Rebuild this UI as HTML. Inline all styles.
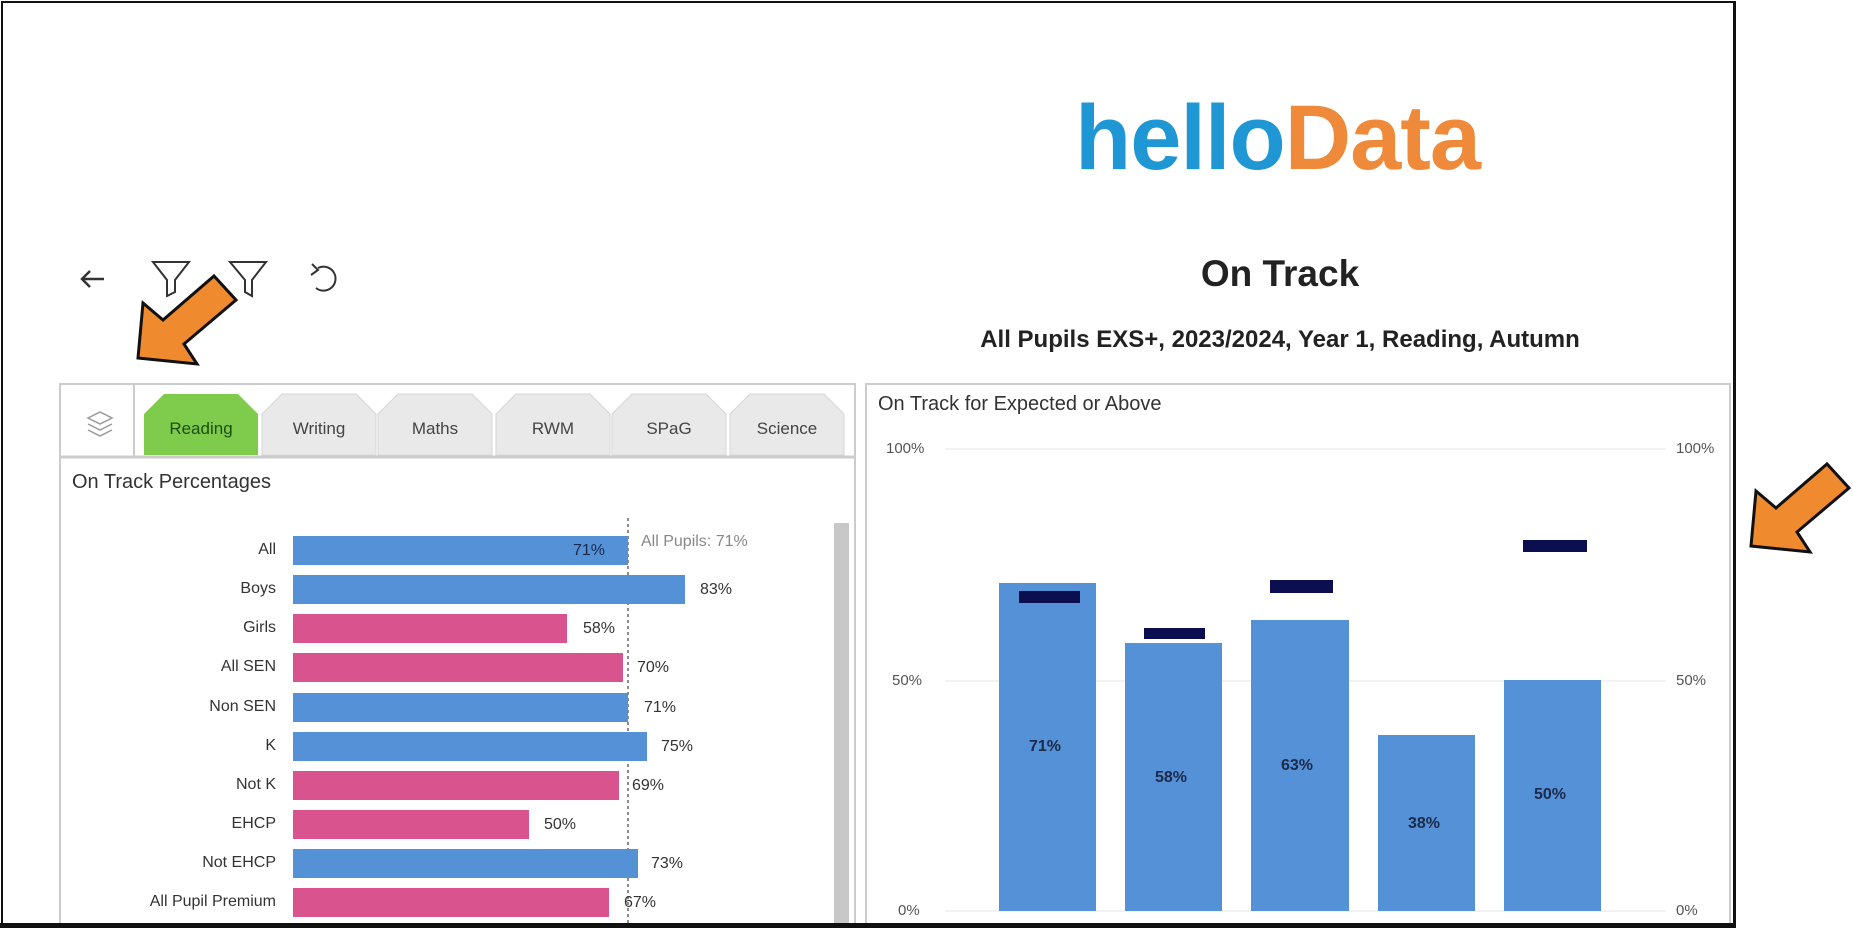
<!DOCTYPE html>
<html><head><meta charset="utf-8"><style>
body{margin:0;width:1853px;height:928px;background:#fff;position:relative;overflow:hidden;font-family:"Liberation Sans",sans-serif}
.a{position:absolute}
.frame{left:1px;top:1px;width:1730px;height:922px;border:3px solid #111;border-left-width:2px;border-top-width:2px}
.lbl{position:absolute;right:1577px;font-size:16px;color:#333;text-align:right;white-space:nowrap}
.bar{position:absolute;left:293px;height:29px}
.val{position:absolute;font-size:16px;color:#333}
.tick{position:absolute;font-size:15px;color:#555}
.bl{position:absolute;font-size:16px;font-weight:bold;color:#1c2a4a}
</style></head><body>
<div class="a frame"></div>
<div class="a" style="left:1075px;top:88px;font-size:92px;font-weight:bold;letter-spacing:-1px;line-height:100px"><span style="color:#1f97d4">hello</span><span style="color:#ef8a3b">Data</span></div>
<div class="a" style="left:1080px;top:253px;width:400px;text-align:center;font-size:37px;font-weight:bold;color:#222">On Track</div>
<div class="a" style="left:880px;top:326px;width:800px;text-align:center;font-size:24px;font-weight:bold;color:#222">All Pupils EXS+, 2023/2024, Year 1, Reading, Autumn</div>
<svg class="a" style="left:0;top:0" width="1853" height="928">
<g fill="none" stroke="#333" stroke-width="2.5">
<path d="M104 279H82M90 271L82 279L90 287"/>
<path d="M153 262H189L175 280V292L167 296V280Z" stroke-width="2"/>
<path d="M230 262H266L252 280V296L245 292V280Z" stroke-width="2"/>
<path d="M318 268A12 12 0 1 1 316 288" stroke-width="2"/><path d="M312 264L318 270L311 275" stroke-width="2"/>
</g>
<g fill="#ef8a2f" stroke="#111" stroke-width="3" stroke-linejoin="miter">
<polygon points="138,358 143,303 163,320 214,276 236,300 184,344 197,364"/>
<polygon points="1751,546 1756,491 1776,508 1827,464 1849,488 1797,532 1810,552"/>
</g>
<rect x="60" y="384" width="795" height="560" fill="none" stroke="#ccc" stroke-width="2"/>
<line x1="60" y1="457" x2="855" y2="457" stroke="#ccc" stroke-width="3"/>
<line x1="134" y1="384" x2="134" y2="457" stroke="#ccc" stroke-width="2"/>
<g fill="none" stroke="#999" stroke-width="1.5"><path d="M88 418L100 412L112 418L100 424Z"/><path d="M88 424L100 430L112 424"/><path d="M88 430L100 436L112 430"/></g>
<g font-size="17" text-anchor="middle" fill="#444">
<polygon points="144,455 144,414 164,394 238,394 258,414 258,455" fill="#7fcb4c"/>
<text x="201" y="434" fill="#1d4d12">Reading</text>
<polygon points="262,455 262,414 282,394 356,394 376,414 376,455" fill="#e9e9e9" stroke="#d6d6d6"/><text x="319" y="434">Writing</text>
<polygon points="378,455 378,414 398,394 472,394 492,414 492,455" fill="#e9e9e9" stroke="#d6d6d6"/><text x="435" y="434">Maths</text>
<polygon points="496,455 496,414 516,394 590,394 610,414 610,455" fill="#e9e9e9" stroke="#d6d6d6"/><text x="553" y="434">RWM</text>
<polygon points="612,455 612,414 632,394 706,394 726,414 726,455" fill="#e9e9e9" stroke="#d6d6d6"/><text x="669" y="434">SPaG</text>
<polygon points="730,455 730,414 750,394 824,394 844,414 844,455" fill="#e9e9e9" stroke="#d6d6d6"/><text x="787" y="434">Science</text>
</g>
<text x="72" y="488" font-size="20" fill="#333">On Track Percentages</text>
<rect x="834" y="523" width="15" height="410" fill="#c8c8c8"/>
<rect x="866" y="384" width="864" height="560" fill="none" stroke="#ccc" stroke-width="2"/>
<g stroke="#eee" stroke-width="1.5"><line x1="945" y1="449" x2="1666" y2="449"/><line x1="945" y1="681" x2="1666" y2="681"/><line x1="945" y1="911" x2="1666" y2="911"/></g>
<g fill="#5591d6">
<rect x="999" y="583" width="97" height="328"/>
<rect x="1125" y="643" width="97" height="268"/>
<rect x="1251" y="620" width="98" height="291"/>
<rect x="1378" y="735" width="97" height="176"/>
<rect x="1504" y="680" width="97" height="231"/>
</g>
<g fill="#0b0f4f">
<rect x="1019" y="591" width="61" height="12"/>
<rect x="1144" y="628" width="61" height="11"/>
<rect x="1270" y="580" width="63" height="13"/>
<rect x="1523" y="540" width="64" height="12"/>
</g>
<line x1="628" y1="518" x2="628" y2="928" stroke="#666" stroke-width="1.5" stroke-dasharray="3,3"/>
</svg>
<div class="a" style="left:878px;top:393px;font-size:20px;color:#333">On Track for Expected or Above</div>
<div class="tick" style="left:886px;top:440px">100%</div>
<div class="tick" style="left:892px;top:672px">50%</div>
<div class="tick" style="left:898px;top:902px">0%</div>
<div class="tick" style="left:1676px;top:440px">100%</div>
<div class="tick" style="left:1676px;top:672px">50%</div>
<div class="tick" style="left:1676px;top:902px">0%</div>
<div class="bl" style="left:1029px;top:738px">71%</div>
<div class="bl" style="left:1155px;top:769px">58%</div>
<div class="bl" style="left:1281px;top:757px">63%</div>
<div class="bl" style="left:1408px;top:815px">38%</div>
<div class="bl" style="left:1534px;top:786px">50%</div>

<div class="lbl" style="top:541px">All</div>
<div class="bar" style="top:536px;width:335px;background:#5591d6"></div>
<div class="val" style="left:573px;top:542px;color:#1c2a4a">71%</div>
<div class="a" style="left:641px;top:533px;font-size:16px;color:#888">All Pupils: 71%</div>

<div class="lbl" style="top:580px">Boys</div>
<div class="bar" style="top:575px;width:392px;background:#5591d6"></div>
<div class="val" style="left:700px;top:581px">83%</div>

<div class="lbl" style="top:619px">Girls</div>
<div class="bar" style="top:614px;width:274px;background:#d9538f"></div>
<div class="val" style="left:583px;top:620px">58%</div>

<div class="lbl" style="top:658px">All SEN</div>
<div class="bar" style="top:653px;width:330px;background:#d9538f"></div>
<div class="val" style="left:637px;top:659px">70%</div>

<div class="lbl" style="top:698px">Non SEN</div>
<div class="bar" style="top:693px;width:335px;background:#5591d6"></div>
<div class="val" style="left:644px;top:699px">71%</div>

<div class="lbl" style="top:737px">K</div>
<div class="bar" style="top:732px;width:354px;background:#5591d6"></div>
<div class="val" style="left:661px;top:738px">75%</div>

<div class="lbl" style="top:776px">Not K</div>
<div class="bar" style="top:771px;width:326px;background:#d9538f"></div>
<div class="val" style="left:632px;top:777px">69%</div>

<div class="lbl" style="top:815px">EHCP</div>
<div class="bar" style="top:810px;width:236px;background:#d9538f"></div>
<div class="val" style="left:544px;top:816px">50%</div>

<div class="lbl" style="top:854px">Not EHCP</div>
<div class="bar" style="top:849px;width:345px;background:#5591d6"></div>
<div class="val" style="left:651px;top:855px">73%</div>

<div class="lbl" style="top:893px">All Pupil Premium</div>
<div class="bar" style="top:888px;width:316px;background:#d9538f"></div>
<div class="val" style="left:624px;top:894px">67%</div>
<div class="a" style="left:0;top:923px;width:1734px;height:5px;background:#111"></div>
</body></html>
